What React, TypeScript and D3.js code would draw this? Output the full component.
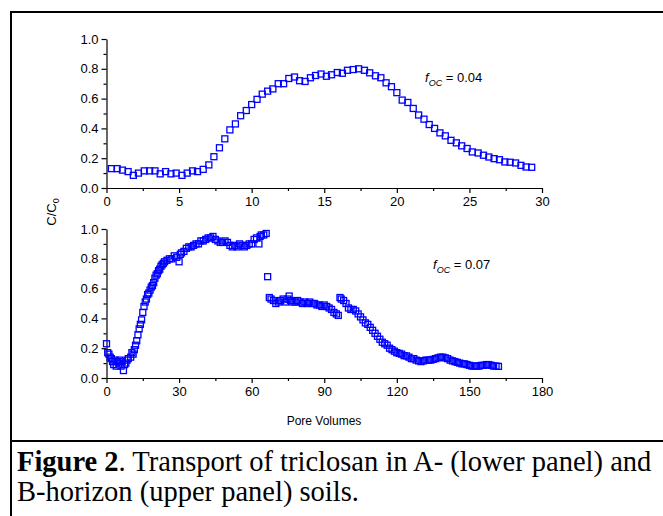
import React, { useRef, useEffect } from 'react'
import { select, scaleLinear, axisBottom, axisLeft, format, range } from 'd3'

// upper panel: B-horizon soil, f_oc = 0.04
const pvB = [0.34, 0.73, 1.1, 1.49, 1.85, 2.2, 2.6, 2.97, 3.34, 3.7, 4.07, 4.44, 4.8, 5.2, 5.56, 5.93, 6.27, 6.66, 7.05, 7.4, 7.78, 8.15, 8.5, 8.88, 9.24, 9.63, 10.0, 10.37, 10.73, 11.1, 11.46, 11.83, 12.2, 12.56, 12.95, 13.3, 13.68, 14.05, 14.4, 14.78, 15.15, 15.5, 15.9, 16.25, 16.6, 17.0, 17.37, 17.77, 18.13, 18.53, 18.9, 19.26, 19.63, 20.0, 20.37, 20.76, 21.13, 21.5, 21.87, 22.23, 22.6, 22.97, 23.34, 23.73, 24.1, 24.47, 24.84, 25.2, 25.6, 25.97, 26.34, 26.7, 27.07, 27.44, 27.8, 28.18, 28.55, 28.9, 29.29]
const cB = [0.13, 0.13, 0.12, 0.11, 0.085, 0.1, 0.115, 0.115, 0.115, 0.095, 0.11, 0.095, 0.1, 0.085, 0.1, 0.115, 0.11, 0.125, 0.155, 0.21, 0.27, 0.33, 0.39, 0.43, 0.485, 0.52, 0.56, 0.595, 0.63, 0.65, 0.665, 0.7, 0.7, 0.735, 0.745, 0.72, 0.715, 0.74, 0.755, 0.765, 0.75, 0.76, 0.775, 0.77, 0.79, 0.795, 0.8, 0.79, 0.773, 0.753, 0.74, 0.706, 0.68, 0.64, 0.59, 0.574, 0.534, 0.49, 0.462, 0.426, 0.4, 0.37, 0.35, 0.32, 0.303, 0.283, 0.265, 0.242, 0.235, 0.22, 0.208, 0.197, 0.19, 0.175, 0.173, 0.168, 0.152, 0.141, 0.139]

// lower panel: A-horizon soil, f_oc = 0.07
const pvA = [0, 0.5, 1, 1.5, 2, 2.5, 3, 3.5, 4, 4.5, 5, 5.5, 6, 6.5, 7, 7.5, 8, 8.5, 9, 10, 10.5, 11, 11.5, 12, 12.5, 13, 13.5, 14, 14.5, 15, 15.5, 16, 16.5, 17, 17.5, 18, 18.5, 19, 19.5, 20, 20.5, 21, 21.5, 22, 22.5, 23, 23.5, 24, 25, 26, 27, 28, 29, 30, 30.5, 31, 32, 33, 34, 35, 36, 37, 38, 39, 40, 41, 42, 43, 44, 45, 46, 47, 48, 49, 50, 51, 52, 53, 54, 55, 56, 57, 58, 59, 60, 61, 62, 63, 63.5, 64, 65, 66, 66.6, 67.3, 68, 69, 70, 71, 72, 73, 74, 75, 75.5, 76, 77, 78, 79, 80, 81, 82, 83, 84, 85, 86, 87, 88, 89, 90, 91, 92, 93, 94, 95, 95.8, 96.5, 97, 98, 99, 100, 101, 102, 103, 104, 105, 106, 107, 108, 109, 110, 111, 112, 113, 114, 115, 116, 117, 118, 119, 120, 121, 122, 123, 124, 125, 126, 127, 128, 129, 130, 131, 132, 133, 134, 135, 136, 137, 138, 139, 140, 141, 142, 143, 144, 145, 146, 147, 148, 149, 150, 151, 152, 153, 154, 155, 156, 157, 158, 159, 160, 161, 162]
const cA = [0.23, 0.17, 0.16, 0.14, 0.13, 0.11, 0.09, 0.12, 0.08, 0.11, 0.1, 0.12, 0.08, 0.11, 0.05, 0.09, 0.1, 0.12, 0.13, 0.14, 0.17, 0.16, 0.19, 0.22, 0.25, 0.29, 0.33, 0.36, 0.39, 0.44, 0.48, 0.51, 0.53, 0.56, 0.57, 0.59, 0.61, 0.62, 0.64, 0.67, 0.69, 0.7, 0.72, 0.73, 0.75, 0.76, 0.77, 0.78, 0.79, 0.8, 0.8, 0.82, 0.81, 0.78, 0.83, 0.84, 0.85, 0.87, 0.88, 0.88, 0.89, 0.9, 0.9, 0.92, 0.92, 0.93, 0.94, 0.94, 0.95, 0.93, 0.92, 0.91, 0.91, 0.92, 0.91, 0.89, 0.88, 0.89, 0.88, 0.9, 0.89, 0.88, 0.89, 0.9, 0.9, 0.93, 0.94, 0.9, 0.95, 0.96, 0.96, 0.97, 0.68, 0.54, 0.53, 0.52, 0.5, 0.51, 0.52, 0.53, 0.51, 0.53, 0.55, 0.52, 0.51, 0.51, 0.52, 0.51, 0.5, 0.51, 0.5, 0.51, 0.5, 0.5, 0.49, 0.49, 0.48, 0.49, 0.48, 0.47, 0.46, 0.44, 0.43, 0.42, 0.54, 0.53, 0.52, 0.5, 0.47, 0.46, 0.46, 0.45, 0.43, 0.41, 0.39, 0.37, 0.36, 0.34, 0.32, 0.3, 0.28, 0.26, 0.24, 0.23, 0.22, 0.2, 0.19, 0.18, 0.17, 0.165, 0.16, 0.15, 0.148, 0.14, 0.13, 0.13, 0.12, 0.115, 0.11, 0.115, 0.12, 0.12, 0.12, 0.125, 0.13, 0.135, 0.14, 0.14, 0.135, 0.13, 0.12, 0.115, 0.11, 0.105, 0.1, 0.095, 0.095, 0.09, 0.085, 0.08, 0.08, 0.08, 0.08, 0.085, 0.085, 0.09, 0.09, 0.085, 0.08, 0.08, 0.078]

const yTicks = [0, 0.2, 0.4, 0.6, 0.8, 1.0]
const xTicksTop = [0, 5, 10, 15, 20, 25, 30]
const xTicksBot = [0, 30, 60, 90, 120, 150, 180]

const font = 'Liberation Sans, Arial, sans-serif'
const serif = 'Liberation Serif, Times New Roman, serif'

const App = () => {
  const svgRef = useRef(null)

  useEffect(() => {
    const svg = select(svgRef.current)
    svg.selectAll('.plot').remove()

    const panels = [
      { pv: pvB, c: cB, xMax: 30, xTicks: xTicksTop, y0: 188, y1: 39 },
      { pv: pvA, c: cA, xMax: 180, xTicks: xTicksBot, y0: 378, y1: 229 },
    ]

    panels.forEach(p => {
      const x = scaleLinear().domain([0, p.xMax]).range([106.5, 542])
      const y = scaleLinear().domain([0, 1]).range([p.y0, p.y1])
      const g = svg.append('g').attr('class', 'plot')
      const step = p.xTicks[1] - p.xTicks[0]
      const xMinor = range(step / 2, p.xMax, step)
      const yMinor = range(0.1, 1, 0.2)

      // minor ticks
      g.append('g').attr('transform', `translate(0,${p.y0})`)
        .call(axisBottom(x).tickValues(xMinor).tickSize(3).tickFormat(() => ''))
        .call(a => a.select('.domain').remove())
      g.append('g').attr('transform', 'translate(106.5,0)')
        .call(axisLeft(y).tickValues(yMinor).tickSize(3).tickFormat(() => ''))
        .call(a => a.select('.domain').remove())

      // major ticks
      const xa = g.append('g').attr('transform', `translate(0,${p.y0})`)
        .call(axisBottom(x).tickValues(p.xTicks).tickSize(5).tickSizeOuter(0).tickPadding(4).tickFormat(format('d')))
      const ya = g.append('g').attr('transform', 'translate(106.5,0)')
        .call(axisLeft(y).tickValues(yTicks).tickSize(5).tickSizeOuter(0).tickPadding(3).tickFormat(format('.1f')))
      ;[xa, ya].forEach(a => {
        a.attr('font-family', font).attr('font-size', 13)
        a.selectAll('text').attr('fill', '#000')
      })
      g.selectAll('line, path').attr('stroke', '#000').attr('stroke-width', 1.2)

      g.append('g').selectAll('rect').data(p.pv).join('rect')
        .attr('x', (d) => x(d) - 3)
        .attr('y', (d, i) => y(p.c[i]) - 3)
        .attr('width', 6).attr('height', 6)
        .attr('fill', 'none')
        .attr('stroke', '#0000ff')
        .attr('stroke-width', 1.3)
    })
  }, [])

  return (
    <svg ref={svgRef} width={663} height={516}
      style={{ position: 'absolute', left: 0, top: 0, background: '#fff' }}>
      <rect x={0} y={0} width={663} height={516} fill="#fff" />
      <path d="M663,12 H11 V516 M11,441 H663" fill="none" stroke="#000" strokeWidth={2} />
      <text x={56} y={212} transform="rotate(-90 56 212)" textAnchor="middle"
        fontFamily={font} fontSize={13}>
        C/C<tspan fontSize={9} dy={3}>0</tspan>
      </text>
      <text x={324} y={425} textAnchor="middle" fontFamily={font} fontSize={12}>Pore Volumes</text>
      <text x={425} y={82} fontFamily={font} fontSize={13}>
        <tspan fontStyle="italic">f</tspan>
        <tspan fontStyle="italic" fontSize={9} dy={4}>OC</tspan>
        <tspan dy={-4}> = 0.04</tspan>
      </text>
      <text x={433} y={269} fontFamily={font} fontSize={13}>
        <tspan fontStyle="italic">f</tspan>
        <tspan fontStyle="italic" fontSize={9} dy={4}>OC</tspan>
        <tspan dy={-4}> = 0.07</tspan>
      </text>
      <text x={17} y={471} fontFamily={serif} fontSize={28.5}>
        <tspan fontWeight="bold">Figure 2</tspan>. Transport of triclosan in A- (lower panel) and
      </text>
      <text x={17} y={501} fontFamily={serif} fontSize={28.5}>
        B-horizon (upper panel) soils.
      </text>
    </svg>
  )
}

export default App
